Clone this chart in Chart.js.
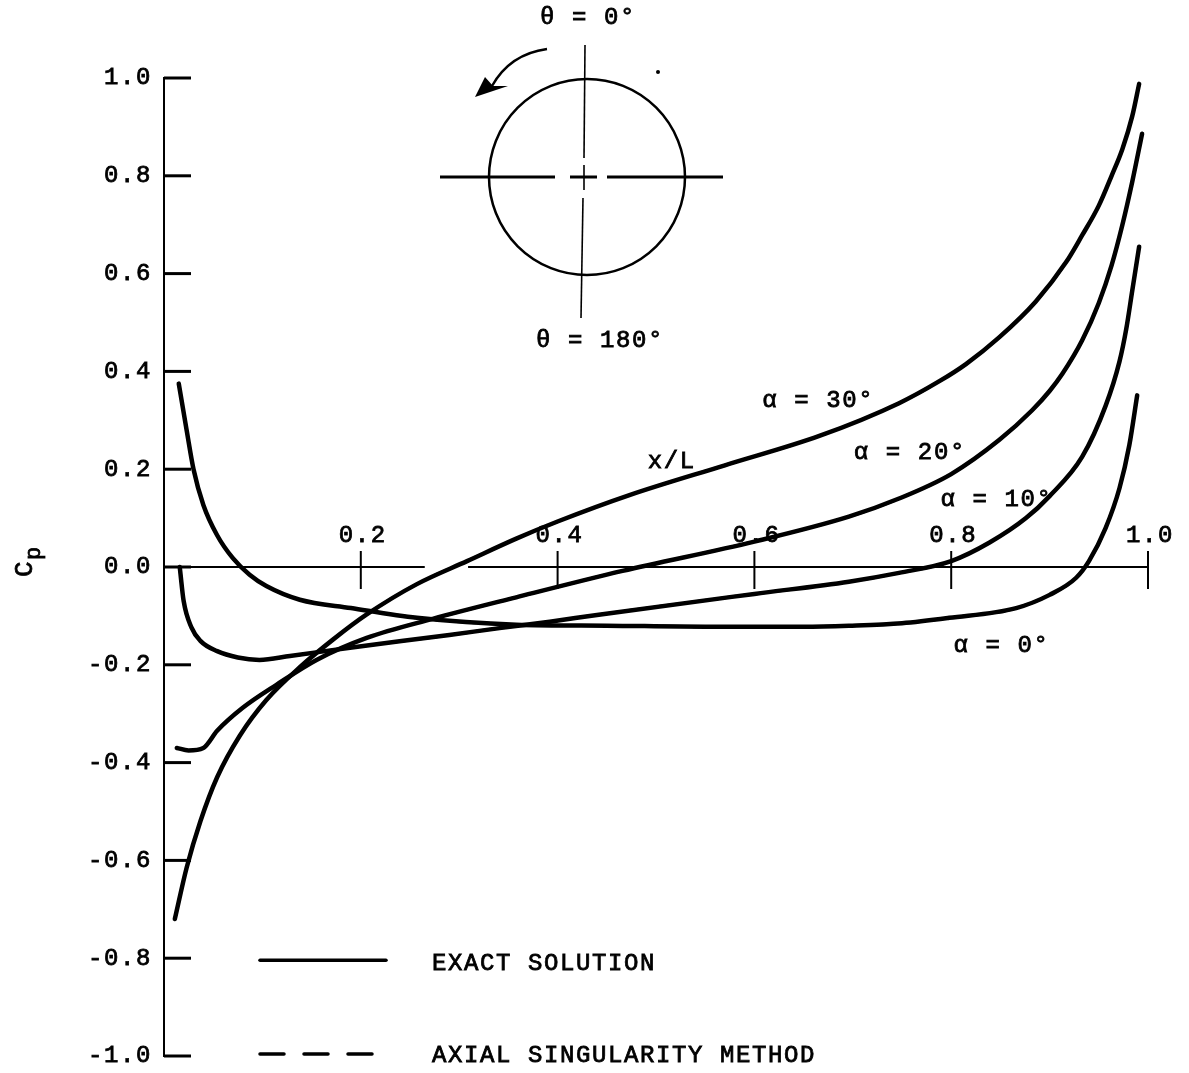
<!DOCTYPE html>
<html>
<head>
<meta charset="utf-8">
<script src="https://cdn.jsdelivr.net/npm/chart.js@4.4.1/dist/chart.umd.min.js"></script>
<style>
  html, body { margin: 0; padding: 0; background: #fff; }
</style>
</head>
<body>
<canvas id="cp" width="1189" height="1073"></canvas>
<script>
  "use strict";

  // x/L stations and Cp, one pair of arrays per incidence
  var xAlpha0 = [0.015, 0.023, 0.03, 0.04, 0.054, 0.07, 0.087, 0.104, 0.138, 0.19, 0.257, 0.358, 0.45, 0.55, 0.65, 0.696, 0.75, 0.798, 0.866, 0.9, 0.927, 0.94, 0.957, 0.971, 0.981, 0.989];
  var cpAlpha0 = [0.375, 0.28, 0.2, 0.127, 0.065, 0.018, -0.016, -0.039, -0.067, -0.084, -0.104, -0.118, -0.12, -0.122, -0.122, -0.12, -0.115, -0.104, -0.084, -0.057, -0.022, 0.012, 0.08, 0.161, 0.249, 0.351];

  var xAlpha10 = [0.016, 0.02, 0.028, 0.037, 0.054, 0.075, 0.097, 0.128, 0.189, 0.29, 0.341, 0.392, 0.44, 0.6, 0.696, 0.747, 0.8, 0.839, 0.876, 0.9, 0.933, 0.957, 0.971, 0.978, 0.984, 0.991];
  var cpAlpha10 = [0.0, -0.07, -0.124, -0.151, -0.172, -0.185, -0.19, -0.182, -0.165, -0.139, -0.125, -0.112, -0.098, -0.055, -0.03, -0.012, 0.012, 0.05, 0.1, 0.145, 0.225, 0.33, 0.42, 0.488, 0.565, 0.655];

  var xAlpha20 = [0.013, 0.025, 0.04, 0.054, 0.08, 0.115, 0.155, 0.206, 0.273, 0.358, 0.466, 0.6, 0.696, 0.747, 0.8, 0.849, 0.882, 0.9, 0.913, 0.933, 0.95, 0.963, 0.974, 0.984, 0.994];
  var cpAlpha20 = [-0.37, -0.375, -0.37, -0.335, -0.288, -0.24, -0.19, -0.145, -0.106, -0.062, -0.008, 0.052, 0.103, 0.14, 0.19, 0.26, 0.32, 0.36, 0.395, 0.463, 0.54, 0.617, 0.7, 0.788, 0.886];

  var xAlpha30 = [0.011, 0.023, 0.037, 0.054, 0.077, 0.104, 0.138, 0.172, 0.206, 0.257, 0.308, 0.358, 0.4, 0.473, 0.57, 0.666, 0.747, 0.788, 0.815, 0.849, 0.886, 0.917, 0.933, 0.95, 0.963, 0.974, 0.984, 0.991];
  var cpAlpha30 = [-0.72, -0.615, -0.52, -0.43, -0.345, -0.272, -0.205, -0.148, -0.097, -0.035, 0.012, 0.058, 0.093, 0.147, 0.208, 0.268, 0.335, 0.38, 0.415, 0.47, 0.543, 0.624, 0.678, 0.739, 0.8, 0.855, 0.922, 0.988];

  var curveLabels = ["α = 0°", "α = 10°", "α = 20°", "α = 30°"];
  var legendLabels = ["EXACT SOLUTION", "AXIAL SINGULARITY METHOD"];

  var xTicks = [0.2, 0.4, 0.6, 0.8, 1.0];
  var xTickLabels = ["0.2", "0.4", "0.6", "0.8", "1.0"];
  var yTicks = [1.0, 0.8, 0.6, 0.4, 0.2, 0.0, -0.2, -0.4, -0.6, -0.8, -1.0];
  var yTickLabels = ["1.0", "0.8", "0.6", "0.4", "0.2", "0.0", "-0.2", "-0.4", "-0.6", "-0.8", "-1.0"];

  var INK = "#000";
  var FONT = '24px "Liberation Mono", "DejaVu Sans Mono", monospace';

  function pairs(xs, cps) {
    return xs.map(function (x, i) { return { x: x, y: cps[i] }; });
  }

  function curve(label, xs, cps, dashed) {
    return {
      label: label,
      data: pairs(xs, cps),
      showLine: true,
      borderColor: INK,
      borderWidth: dashed ? 3 : 4.5,
      borderDash: dashed ? [22, 8] : [],
      borderCapStyle: "round",
      borderJoinStyle: "round",
      pointRadius: 0,
      cubicInterpolationMode: "monotone",
      fill: false,
      clip: false
    };
  }

  function setFont(ctx) {
    ctx.font = FONT;
    ctx.fillStyle = INK;
    ctx.strokeStyle = INK;
    if ("letterSpacing" in ctx) ctx.letterSpacing = "1.6px";
  }

  // typewriter text is a bit heavier than the plain mono face
  function text(ctx, s, x, y) {
    var lw = ctx.lineWidth;
    ctx.lineWidth = 0.8;
    ctx.fillText(s, x, y);
    ctx.strokeText(s, x, y);
    ctx.lineWidth = lw;
  }

  function seg(ctx, x1, y1, x2, y2) {
    ctx.beginPath();
    ctx.moveTo(x1, y1);
    ctx.lineTo(x2, y2);
    ctx.stroke();
  }

  // axes drawn through the plot, ticks pointing inward like the original
  var axesPlugin = {
    id: "axes",
    beforeDatasetsDraw: function (chart) {
      var ctx = chart.ctx, xs = chart.scales.x, ys = chart.scales.y;
      var x0 = xs.getPixelForValue(0), x1 = xs.getPixelForValue(1);
      var y0 = ys.getPixelForValue(0);
      ctx.save();
      ctx.strokeStyle = INK;
      ctx.lineCap = "butt";

      ctx.lineWidth = 2;
      seg(ctx, x0, ys.getPixelForValue(1) - 1, x0, ys.getPixelForValue(-1) + 1);
      ctx.lineWidth = 3;
      yTicks.forEach(function (v) {
        var py = ys.getPixelForValue(v);
        seg(ctx, x0, py, x0 + 27, py);
      });

      // zero line, broken where x/L sits near 0.3
      ctx.lineWidth = 2;
      seg(ctx, x0, y0, xs.getPixelForValue(0.265), y0);
      seg(ctx, xs.getPixelForValue(0.309), y0, x1, y0);
      xTicks.forEach(function (v) {
        var px = xs.getPixelForValue(v);
        seg(ctx, px, y0 - 16, px, y0 + 22);
      });

      setFont(ctx);
      ctx.textAlign = "right";
      ctx.textBaseline = "middle";
      yTicks.forEach(function (v, i) {
        text(ctx, yTickLabels[i], x0 - 12, ys.getPixelForValue(v));
      });
      ctx.textAlign = "center";
      xTicks.forEach(function (v, i) {
        text(ctx, xTickLabels[i], xs.getPixelForValue(v) + 2, y0 - 31);
      });

      // Cp, rotated
      ctx.save();
      ctx.translate(32, y0);
      ctx.rotate(-Math.PI / 2);
      ctx.textAlign = "left";
      ctx.textBaseline = "alphabetic";
      ctx.font = '26px "Liberation Mono", monospace';
      text(ctx, "C", -10, 0);
      ctx.font = '22px "Liberation Mono", monospace';
      text(ctx, "p", 7, 8);
      ctx.restore();

      ctx.restore();
    },

    afterDatasetsDraw: function (chart) {
      var ctx = chart.ctx, xs = chart.scales.x, ys = chart.scales.y;
      function at(x, y) { return [xs.getPixelForValue(x), ys.getPixelForValue(y)]; }
      ctx.save();
      setFont(ctx);
      ctx.textAlign = "center";
      ctx.textBaseline = "middle";

      var p = at(0.516, 0.216);
      text(ctx, "x/L", p[0], p[1]);
      p = at(0.851, -0.16);
      text(ctx, curveLabels[0], p[0], p[1]);
      p = at(0.846, 0.137);
      text(ctx, curveLabels[1], p[0], p[1]);
      p = at(0.758, 0.233);
      text(ctx, curveLabels[2], p[0], p[1]);
      p = at(0.665, 0.341);
      text(ctx, curveLabels[3], p[0], p[1]);

      // legend rows sit on the -0.8 and -1.0 ticks
      var la = ys.getPixelForValue(-0.8), lb = ys.getPixelForValue(-1.0);
      ctx.lineWidth = 3.5;
      ctx.lineCap = "round";
      seg(ctx, 260, la + 2, 386, la + 2);
      ctx.setLineDash([24, 20]);
      seg(ctx, 260, lb - 2, 386, lb - 2);
      ctx.setLineDash([]);
      ctx.textAlign = "left";
      text(ctx, legendLabels[0], 432, la + 5);
      text(ctx, legendLabels[1], 432, lb);

      // body cross-section sketch
      var cx = 587, cy = 177;
      ctx.lineWidth = 2.5;
      ctx.beginPath();
      ctx.arc(cx, cy, 98, 0, 2 * Math.PI);
      ctx.stroke();
      ctx.lineCap = "butt";
      ctx.lineWidth = 3;
      seg(ctx, 440, cy, 555, cy);
      seg(ctx, 570, cy, 597, cy);
      seg(ctx, 607, cy, 723, cy);
      ctx.lineWidth = 1.6;
      seg(ctx, 585, 45, 584, 158);
      seg(ctx, 584, 165, 584, 190);
      seg(ctx, 583, 198, 581, 318);

      ctx.lineWidth = 2.5;
      ctx.beginPath();
      ctx.moveTo(547, 49);
      ctx.quadraticCurveTo(510, 54, 492, 86);
      ctx.stroke();
      ctx.beginPath();
      ctx.moveTo(475, 97);
      ctx.lineTo(485, 77);
      ctx.lineTo(493, 86);
      ctx.lineTo(508, 86);
      ctx.closePath();
      ctx.fill();
      ctx.beginPath();
      ctx.arc(658, 72, 2, 0, 2 * Math.PI);
      ctx.fill();

      ctx.textAlign = "center";
      text(ctx, "θ = 0°", 588, 18);
      text(ctx, "θ = 180°", 600, 341);
      ctx.restore();
    }
  };

  new Chart(document.getElementById("cp"), {
    type: "scatter",
    data: {
      datasets: [
        curve("α = 0° exact", xAlpha0, cpAlpha0, false),
        curve("α = 10° exact", xAlpha10, cpAlpha10, false),
        curve("α = 20° exact", xAlpha20, cpAlpha20, false),
        curve("α = 30° exact", xAlpha30, cpAlpha30, false),
        curve("α = 0° axial", xAlpha0, cpAlpha0, true),
        curve("α = 10° axial", xAlpha10, cpAlpha10, true),
        curve("α = 20° axial", xAlpha20, cpAlpha20, true),
        curve("α = 30° axial", xAlpha30, cpAlpha30, true)
      ]
    },
    options: {
      responsive: false,
      devicePixelRatio: 1,
      animation: false,
      events: [],
      layout: { padding: { left: 164, right: 41, top: 78, bottom: 17 } },
      scales: {
        x: { type: "linear", min: 0, max: 1, display: false },
        y: { type: "linear", min: -1, max: 1, display: false }
      },
      plugins: {
        legend: { display: false },
        tooltip: { enabled: false }
      }
    },
    plugins: [axesPlugin]
  });
</script>
</body>
</html>
